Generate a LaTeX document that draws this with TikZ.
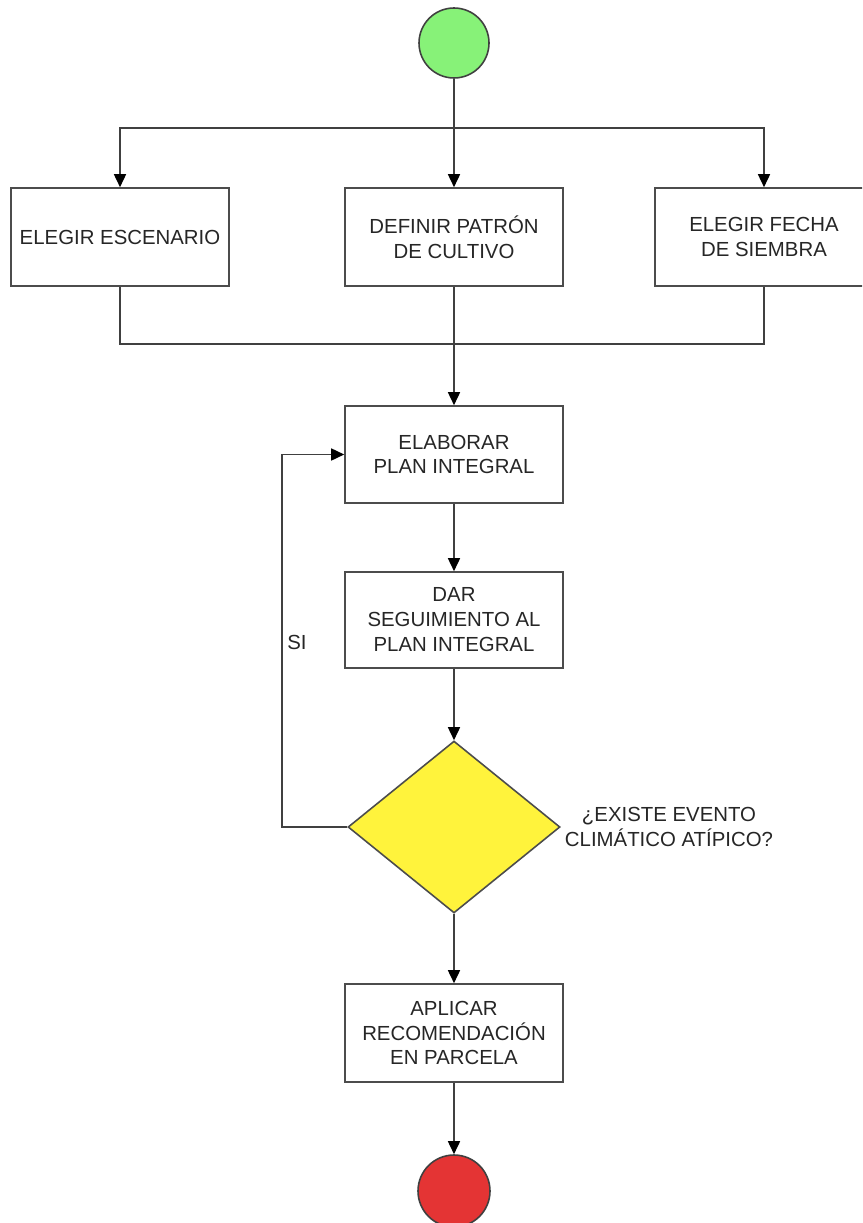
\documentclass[tikz,border=0pt]{standalone}
\usepackage{fontspec}
\setmainfont{Liberation Sans}
\usetikzlibrary{arrows.meta,shapes.geometric}

\definecolor{verdeini}{RGB}{135,242,120}
\definecolor{amarillo}{RGB}{255,243,60}
\definecolor{rojofin}{RGB}{228,52,52}

\begin{document}
\begin{tikzpicture}[
    every node/.style={font=\fontsize{11.6}{14.2}\selectfont, text=black!85},
    caja/.style={draw=black!70, line width=0.9pt, fill=white, minimum width=4.36cm, minimum height=1.96cm, align=center, inner sep=2pt},
    linea/.style={draw=black!75, line width=0.9pt},
    flecha/.style={linea, -{Triangle[length=0.26cm,width=0.24cm,color=black]}}]
    \clip (0,0) rectangle (17.24,-24.46);
    \fill[white] (0,0) rectangle (17.24,-24.46);
    \node[circle, draw=black!75, line width=0.9pt, fill=verdeini, minimum size=1.4cm] (inicio) at (9.08,-0.86) {};
    \node[caja] (escenario) at (2.4,-4.74) {ELEGIR ESCENARIO};
    \node[caja] (patron) at (9.08,-4.74) {DEFINIR PATRÓN\\DE CULTIVO};
    \node[caja] (fecha) at (15.28,-4.74) {ELEGIR FECHA\\DE SIEMBRA};
    \node[caja, minimum height=1.94cm] (plan) at (9.08,-9.09) {ELABORAR\\PLAN INTEGRAL};
    \node[caja, minimum height=1.92cm] (seguimiento) at (9.08,-12.4) {DAR\\SEGUIMIENTO AL\\PLAN INTEGRAL};
    \node[diamond, draw=black!70, line width=0.9pt, fill=amarillo, minimum width=4.24cm, minimum height=3.44cm, inner sep=0pt] (evento) at (9.08,-16.54) {};
    \node[align=center] (pregunta) at (13.38,-16.53) {¿EXISTE EVENTO\\CLIMÁTICO ATÍPICO?};
    \node[caja] (aplicar) at (9.08,-20.66) {APLICAR\\RECOMENDACIÓN\\EN PARCELA};
    \node[circle, draw=black!75, line width=0.9pt, fill=rojofin, minimum size=1.44cm] (fin) at (9.08,-23.82) {};
    \node (si) at (5.94,-12.84) {SI};
    % reparto y union
    \coordinate (reparto) at (9.08,-2.56);
    \coordinate (union) at (9.08,-6.88);
    \draw[flecha] (inicio) -- (patron);
    \draw[flecha] (reparto) -| (escenario.north);
    \draw[flecha] (reparto) -| (fecha.north);
    \draw[linea] (escenario.south) |- (union) -| (fecha.south);
    \draw[flecha] (patron) -- (plan);
    % flujo principal
    \draw[flecha] (plan) -- (seguimiento);
    \draw[flecha] (seguimiento) -- (evento);
    \draw[flecha] (evento) -- (aplicar);
    \draw[flecha] (aplicar) -- (fin);
    \draw[flecha] (evento.west) -- ++(-1.3,0) |- (plan.west);
\end{tikzpicture}
\end{document}
